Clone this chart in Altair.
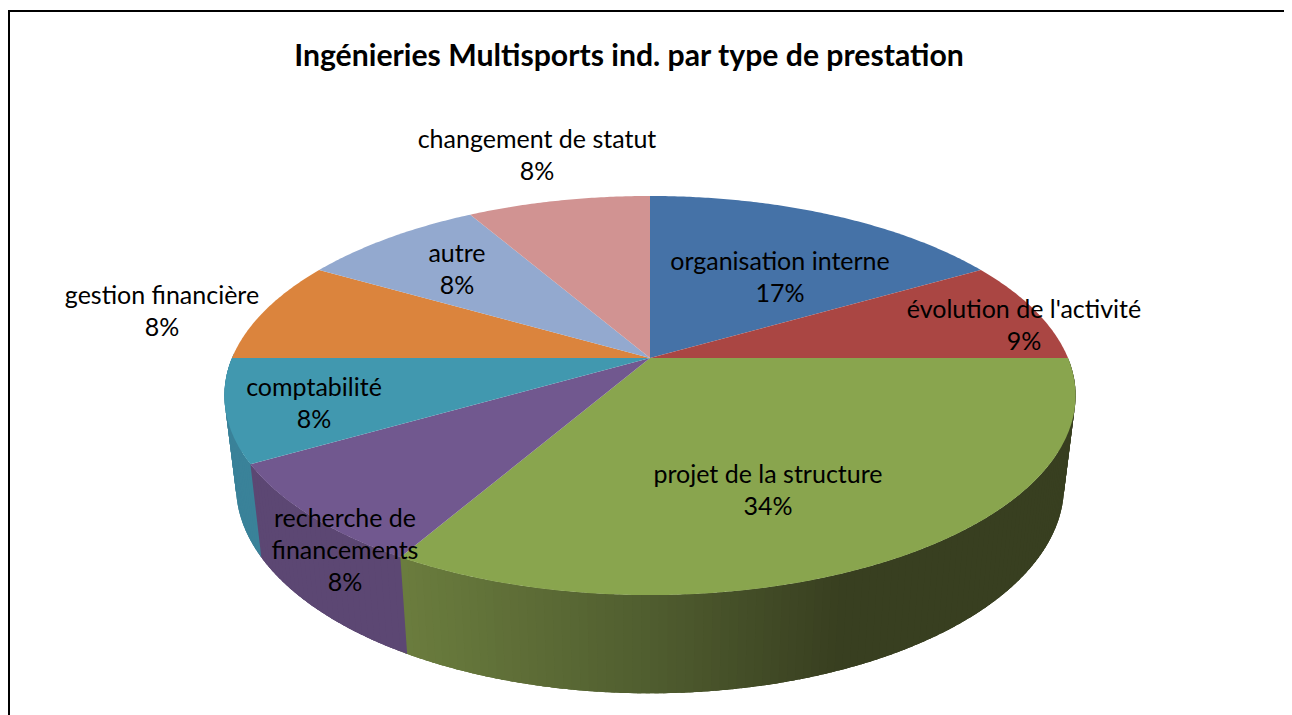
import math
import altair as alt
import pandas as pd

TITLE = "Ingénieries Multisports ind. par type de prestation"
names = ["organisation interne", "évolution de l'activité", "projet de la structure",
         "recherche de\nfinancements", "comptabilité", "gestion financière", "autre",
         "changement de statut"]
shares = [2, 1, 4, 1, 1, 1, 1, 1]
pct_labels = ["17%", "9%", "34%", "8%", "8%", "8%", "8%", "8%"]
top_colors = ["#4572A7", "#AA4643", "#89A54E", "#71588F", "#4198AF", "#DB843D", "#93A9CF", "#D19392"]
wall_left = ["#2C4A6D", "#6E2D2B", "#6B7D3E", "#5C4773", "#3A8299", "#8F5627", "#606E87", "#885F5F"]
wall_mid = ["#2C4A6D", "#6E2D2B", "#505D2F", "#564269", "#3A8299", "#8F5627", "#606E87", "#885F5F"]
wall_dark = ["#2C4A6D", "#6E2D2B", "#383F20", "#564269", "#3A8299", "#8F5627", "#606E87", "#885F5F"]

label_cx = [780, 1024, 768, 345, 314, 162, 457, 537]
label_first_y = [262, 310, 475, 519, 388, 296, 254, 140]

W, H = 1276, 707
CX, TOP_Y, LOW_Y = 642, 350, 439   # pie centres inside the plot area
K = 0.188
TOP_A, TOP_B = 418, 192.5
LOW_A, LOW_B = 406.6, 200


def project(deg, a, b):
    t = math.radians(deg)
    u, v = math.sin(t), math.cos(t)
    d = 1 + K * v
    return [a * u / d, b * v / d]


def mix(c1, c2, f):
    p = [int(c1[i:i + 2], 16) for i in (1, 3, 5)]
    q = [int(c2[i:i + 2], 16) for i in (1, 3, 5)]
    return "#%02x%02x%02x" % tuple(round(a + (b - a) * f) for a, b in zip(p, q))


total = sum(shares)
cum = [0]
for s in shares:
    cum.append(cum[-1] + s)

top_features, wall_features = [], []
for i in range(len(shares)):
    start, end = cum[i] / total * 360, cum[i + 1] / total * 360
    n = max(2, int((end - start) * 2))
    ring = [[0, 0]]
    for j in range(n + 1):
        ring.append(project(start + (end - start) * j / n, TOP_A, TOP_B))
    ring.append([0, 0])
    top_features.append({"type": "Feature", "properties": {"color": top_colors[i]},
                         "geometry": {"type": "Polygon", "coordinates": [ring]}})

    # outer wall: thin strips on the visible front half, each overlapped by the next
    a0, a1 = max(start, 90), min(end, 270)
    if a1 <= a0:
        continue
    m = max(1, int(a1 - a0))
    off = TOP_Y - LOW_Y
    for j in range(m):
        d0 = a0 + (a1 - a0) * j / m
        d1 = a0 + (a1 - a0) * (j + 1) / m
        de = d1 + 1.5
        p_list = [project(d0 + (de - d0) * s / 4, TOP_A, TOP_B) for s in range(5)]
        q_list = [project(d0 + (de - d0) * s / 4, LOW_A, LOW_B) for s in range(5)]
        strip = p_list + [[q[0], q[1] + off] for q in reversed(q_list)] + [p_list[0]]
        xm = project((d0 + d1) / 2, LOW_A, LOW_B)[0]
        if xm < 0:
            f = min(1, (xm + 245) / 245)
            col = mix(wall_left[i], wall_mid[i], max(0, f))
        else:
            col = mix(wall_mid[i], wall_dark[i], min(1, xm / 185))
        wall_features.append({"type": "Feature", "properties": {"color": col},
                              "geometry": {"type": "Polygon", "coordinates": [strip]}})

proj = alt.Projection(type="identity", reflectY=True, scale=1, translate=[CX, TOP_Y])
color_enc = alt.Color("properties.color:N", scale=None, legend=None)

wall = alt.Chart(alt.Data(values=wall_features)).mark_geoshape(strokeWidth=0).encode(
    color=color_enc
).project(**proj.to_dict())

top = alt.Chart(alt.Data(values=top_features)).mark_geoshape(strokeWidth=0).encode(
    color=color_enc
).project(**proj.to_dict())

labels_df = pd.DataFrame({
    "text": [f"{n}\n{p}" for n, p in zip(names, pct_labels)],
    "cx": [c - 8 for c in label_cx],
    "cy": [c - 8 for c in label_first_y],
})
labels = alt.Chart(labels_df).mark_text(
    font="Lato", fontSize=25, color="#000000", lineBreak="\n", lineHeight=32,
    align="center", baseline="middle"
).encode(
    x=alt.X("cx:Q", scale=alt.Scale(domain=[0, W], range=[0, W], nice=False), axis=None),
    y=alt.Y("cy:Q", scale=alt.Scale(domain=[0, H], range=[0, H], nice=False), axis=None),
    text="text:N",
)

border_top = alt.Chart(pd.DataFrame({"a": [0]})).mark_rule(color="#000000", strokeWidth=2).encode(
    x=alt.value(0), x2=alt.value(W), y=alt.value(3))
border_left = alt.Chart(pd.DataFrame({"a": [0]})).mark_rule(color="#000000", strokeWidth=2).encode(
    x=alt.value(1), y=alt.value(2), y2=alt.value(H))

chart = alt.layer(wall, top, labels, border_top, border_left).resolve_scale(
    color="independent"
).properties(
    width=W, height=H, padding=0, autosize=alt.AutoSizeParams(type="none"),
    title=alt.TitleParams(TITLE, font="Lato", fontSize=30.2, fontWeight="bold", color="#000000",
                          anchor="middle", frame="group", dx=-17, dy=79, offset=0,
                          baseline="middle"),
).configure_view(stroke=None)

chart.save("out.html", embed_options={"renderer": "svg", "actions": False})
